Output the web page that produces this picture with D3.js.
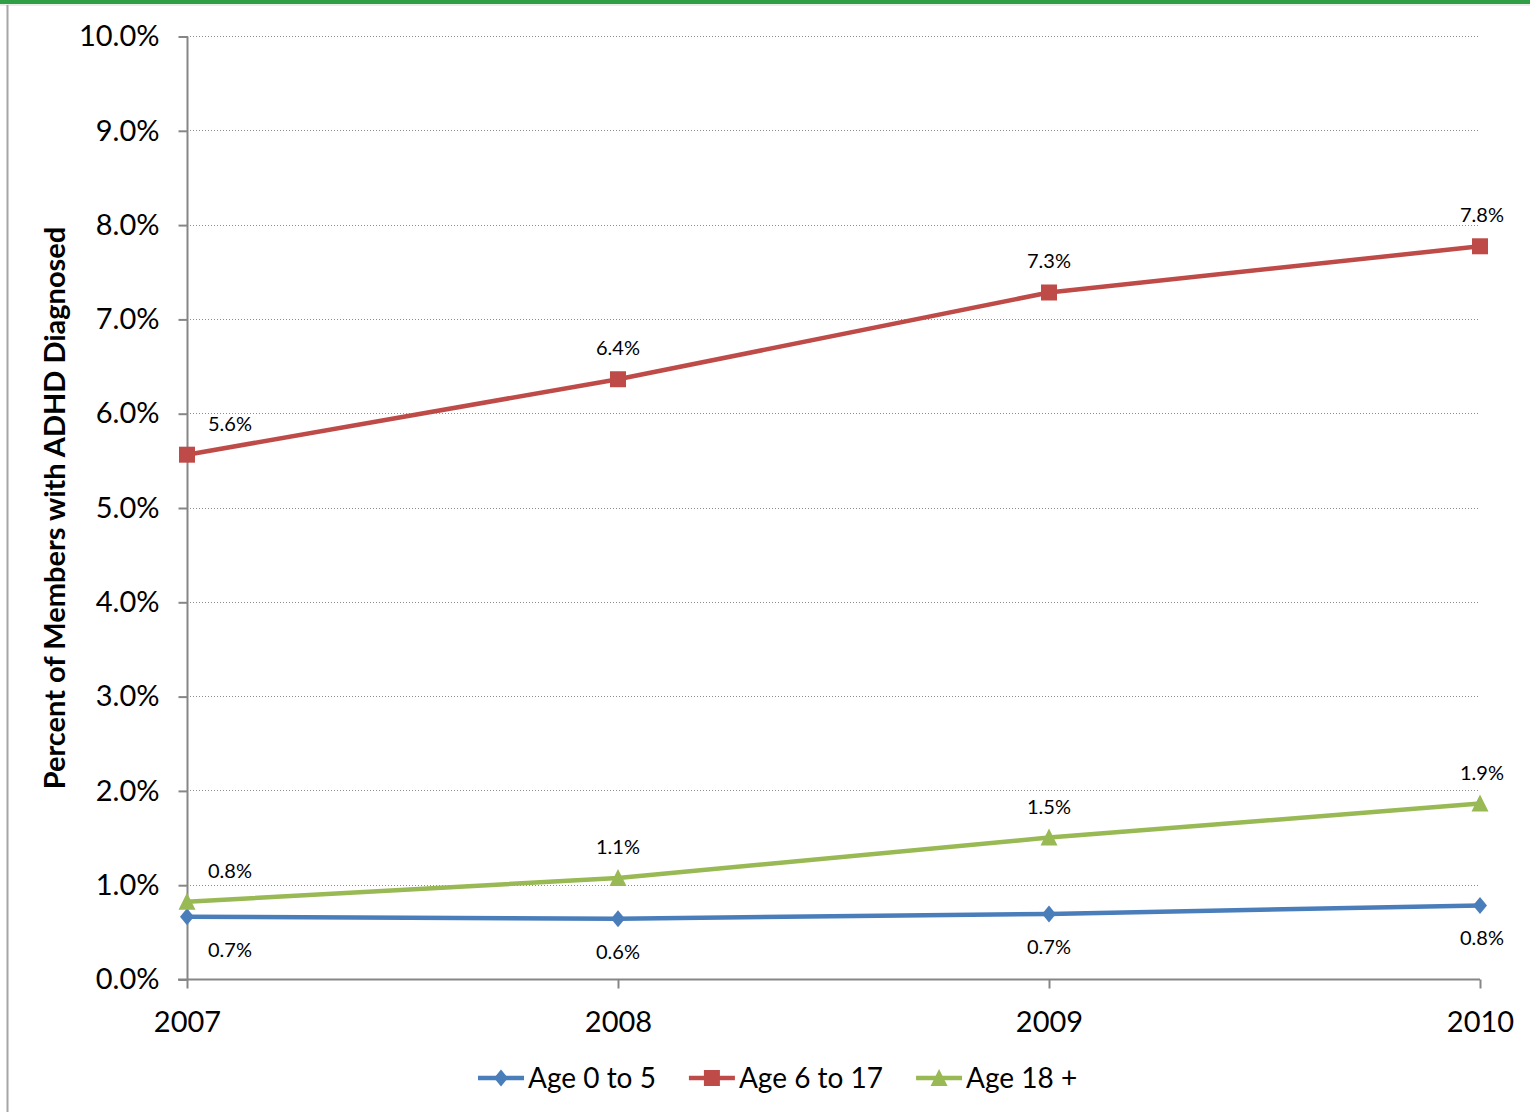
<!DOCTYPE html>
<html>
<head>
<meta charset="utf-8">
<script src="https://cdn.jsdelivr.net/npm/d3@7"></script>
<style>
  html, body { margin: 0; padding: 0; background: #fff; }
  svg { display: block; font-family: Lato, "Open Sans", sans-serif; }
</style>
</head>
<body>
<svg id="chart" width="1530" height="1112"></svg>
<script>
const years = ["2007", "2008", "2009", "2010"];
const age0to5 = [0.66, 0.64, 0.69, 0.78];
const age6to17 = [5.56, 6.36, 7.28, 7.77];
const age18plus = [0.82, 1.07, 1.50, 1.86];
const yTicks = [0, 1, 2, 3, 4, 5, 6, 7, 8, 9, 10];
const seriesNames = ["Age 0 to 5", "Age 6 to 17", "Age 18 +"];
const yTitle = "Percent of Members with ADHD Diagnosed";

const markerPaths = {
  diamond: "M0,-8.5L7,0L0,8.5L-7,0Z",
  square: "M-8,-8H8V8H-8Z",
  triangle: "M0,-9L8.5,8L-8.5,8Z"
};

const series = [
  { name: seriesNames[0], values: age0to5, color: "#4a7ebb", marker: "diamond", labelPos: "below" },
  { name: seriesNames[1], values: age6to17, color: "#be4b48", marker: "square", labelPos: "above" },
  { name: seriesNames[2], values: age18plus, color: "#98b954", marker: "triangle", labelPos: "above" }
];

const svg = d3.select("#chart");
const W = 1530, H = 1112;

// frame
svg.append("rect").attr("x", 0).attr("y", 0).attr("width", W).attr("height", 4).attr("fill", "#2f9e45");
svg.append("line").attr("x1", 0).attr("x2", W).attr("y1", 5).attr("y2", 5).attr("stroke", "#d9d9d9").attr("stroke-width", 1);
svg.append("line").attr("x1", 7.5).attr("x2", 7.5).attr("y1", 5).attr("y2", H).attr("stroke", "#a6a6a6").attr("stroke-width", 2);

const x = d3.scalePoint().domain(years).range([187, 1480]);
const y = d3.scaleLinear().domain([0, 10]).range([979, 36]);

const axisColor = "#868686";

// gridlines
svg.append("g").selectAll("line").data(yTicks.filter(t => t > 0)).join("line")
  .attr("x1", 187).attr("x2", 1480)
  .attr("y1", d => Math.round(y(d)) + 0.5).attr("y2", d => Math.round(y(d)) + 0.5)
  .attr("stroke", "#8c8c8c").attr("stroke-width", 1).attr("stroke-dasharray", "1,2");

// y axis
const yAxis = svg.append("g").attr("transform", "translate(187.5,0.5)")
  .call(d3.axisLeft(y).tickValues(yTicks).tickFormat(d => d3.format(".1f")(d) + "%").tickSize(9).tickPadding(19));
yAxis.select(".domain").attr("stroke", axisColor).attr("stroke-width", 2).attr("d", `M0,${y(10)}V${y(0)}`);
yAxis.selectAll(".tick line").attr("stroke", axisColor).attr("stroke-width", 2);
yAxis.selectAll(".tick text").attr("fill", "#000").style("font-size", "29px").style("font-family", "Lato, sans-serif");

// x axis
const xAxis = svg.append("g").attr("transform", `translate(0,${Math.round(y(0)) + 0.5})`)
  .call(d3.axisBottom(x).tickSize(9).tickPadding(23));
xAxis.select(".domain").attr("stroke", axisColor).attr("stroke-width", 2).attr("d", `M178,0H1480`);
xAxis.selectAll(".tick line").attr("stroke", axisColor).attr("stroke-width", 2);
xAxis.selectAll(".tick text").attr("fill", "#000").style("font-size", "29px").style("font-family", "Lato, sans-serif");

// y title
svg.append("text")
  .attr("transform", `translate(65,508) rotate(-90)`)
  .attr("text-anchor", "middle")
  .style("font-size", "29px").style("font-weight", "bold")
  .text(yTitle);

// lines
const line = d3.line().x((d, i) => x(years[i])).y(d => y(d));
series.forEach(s => {
  svg.append("path").datum(s.values).attr("d", line)
    .attr("fill", "none").attr("stroke", s.color).attr("stroke-width", 4.5).attr("stroke-linejoin", "round");
});

// markers
series.forEach(s => {
  svg.append("g").selectAll("path").data(s.values).join("path")
    .attr("transform", (d, i) => `translate(${x(years[i])},${y(d)})`)
    .attr("d", markerPaths[s.marker])
    .attr("fill", s.color);
});

// data labels
series.forEach(s => {
  svg.append("g").selectAll("text").data(s.values).join("text")
    .attr("x", (d, i) => x(years[i]) + (i === 0 ? 43 : (i === 3 ? 2 : 0)))
    .attr("y", d => y(d) + (s.labelPos === "above" ? -24 : 40))
    .attr("text-anchor", "middle")
    .style("font-size", "20px")
    .attr("fill", "#000")
    .text(d => d3.format(".1f")(d) + "%");
});

// legend
const legend = svg.append("g");
let lx = 478;
const ly = 1078;
series.forEach(s => {
  const g = legend.append("g");
  g.append("line").attr("x1", lx).attr("x2", lx + 46).attr("y1", ly).attr("y2", ly)
    .attr("stroke", s.color).attr("stroke-width", 4.5);
  g.append("path").attr("transform", `translate(${lx + 23},${ly})`)
    .attr("d", markerPaths[s.marker]).attr("fill", s.color);
  const t = g.append("text").attr("x", lx + 50).attr("y", ly + 10)
    .style("font-size", "28px").attr("fill", "#000").text(s.name);
  const w = t.node().getComputedTextLength();
  lx = lx + 50 + w + 33;
});
</script>
</body>
</html>
